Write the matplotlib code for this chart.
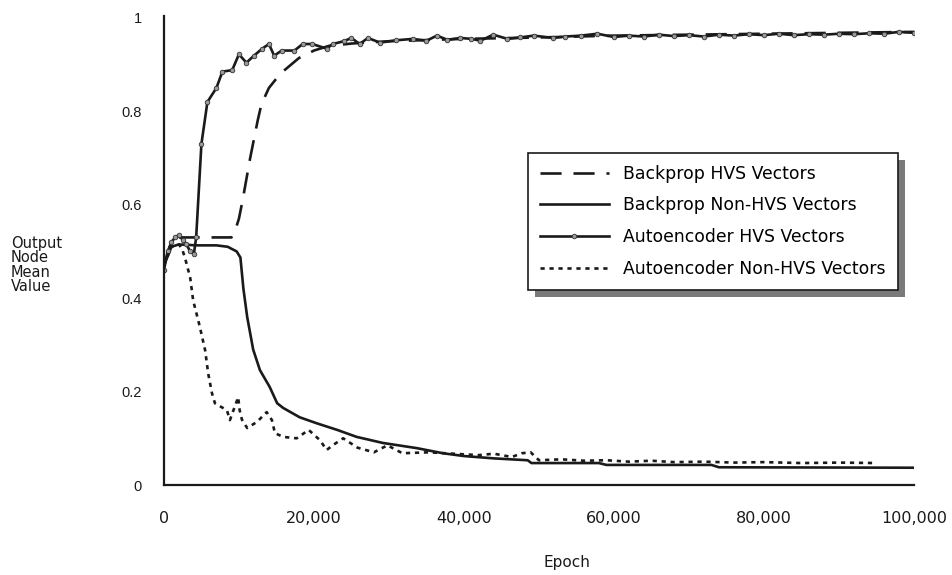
import matplotlib
matplotlib.use("Agg")
import matplotlib.pyplot as plt
from matplotlib.patches import Rectangle
import numpy as np

# epochs in thousands
BP_HVS_X = [0, 1, 2, 4.4, 9.0, 9.5, 10.0, 10.5, 11.0, 11.5, 12.0, 12.5, 13.0, 14.0,
            15.0, 16.0, 18.0, 20.0, 22.0, 25.0, 30.0, 40.0, 50.0, 60.0, 70.0, 80.0,
            90.0, 100.0]
BP_HVS_Y = [0.47, 0.52, 0.53, 0.53, 0.53, 0.545, 0.57, 0.61, 0.655, 0.70, 0.74,
            0.78, 0.815, 0.85, 0.87, 0.887, 0.914, 0.93, 0.94, 0.945, 0.95, 0.955,
            0.958, 0.962, 0.964, 0.966, 0.968, 0.97]

BP_NON_X = [0, 1, 2, 4.4, 7.0, 8.5, 9.7, 10.2, 10.6, 11.1, 11.9, 12.8, 14.1, 15.1,
            15.9, 18.1, 20.4, 23.1, 25.7, 29.2, 33.7, 37.2, 40.0, 44.0, 48.5, 49.0,
            58.0, 59.0, 73.0, 74.0, 100.0]
BP_NON_Y = [0.47, 0.51, 0.515, 0.513, 0.513, 0.51, 0.50, 0.487, 0.42, 0.36, 0.29,
            0.246, 0.21, 0.175, 0.165, 0.145, 0.132, 0.118, 0.103, 0.09, 0.079,
            0.068, 0.062, 0.057, 0.053, 0.047, 0.047, 0.043, 0.043, 0.038, 0.037]

AE_HVS_X = [0, 0.5, 1.0, 1.5, 2.0, 2.5, 3.0, 3.5, 4.0, 4.3, 5.0, 5.8, 7.0, 7.8, 9.1,
            10.0, 11.0, 12.0, 13.1, 14.0, 14.7, 15.7, 17.4, 18.5, 19.8, 21.7, 22.5,
            24.0, 25.0, 26.1, 27.2, 28.8, 31.0, 33.2, 35.0, 36.4, 37.8, 39.5, 41.0,
            42.2, 43.9, 45.8, 47.5, 49.3, 51.9, 53.5, 55.6, 57.8, 60.0, 62.0, 64.0,
            66.0, 68.0, 70.0, 72.0, 74.0, 76.0, 78.0, 80.0, 82.0, 84.0, 86.0, 88.0,
            90.0, 92.0, 94.0, 96.0, 98.0, 100.0]
AE_HVS_Y = [0.46, 0.50, 0.52, 0.53, 0.535, 0.525, 0.515, 0.50, 0.495, 0.53, 0.73,
            0.82, 0.85, 0.885, 0.888, 0.922, 0.904, 0.919, 0.934, 0.944, 0.919, 0.93,
            0.93, 0.944, 0.944, 0.934, 0.944, 0.95, 0.957, 0.944, 0.957, 0.947, 0.952,
            0.955, 0.951, 0.962, 0.953, 0.957, 0.955, 0.951, 0.964, 0.955, 0.958,
            0.962, 0.957, 0.96, 0.962, 0.966, 0.959, 0.962, 0.96, 0.964, 0.961, 0.963,
            0.96, 0.964, 0.962, 0.965, 0.963, 0.966, 0.963, 0.965, 0.964, 0.966,
            0.965, 0.967, 0.966, 0.97, 0.968]

AE_NON_X = [0, 1.0, 2.0, 2.4, 2.8, 3.5, 3.9, 4.8, 5.5, 5.9, 6.4, 6.8, 8.4, 8.8, 9.9,
            10.1, 10.4, 11.1, 12.4, 13.7, 14.4, 14.8, 15.9, 17.7, 19.3, 20.8, 21.7,
            22.5, 23.9, 25.8, 28.0, 29.8, 31.8, 35.3, 39.7, 42.0, 44.0, 46.4, 47.7,
            48.9, 50.0, 53.0, 56.0, 59.0, 62.0, 65.0, 68.0, 72.0, 76.0, 80.0, 85.0,
            90.0, 95.0]
AE_NON_Y = [0.47, 0.51, 0.515, 0.506, 0.487, 0.444, 0.395, 0.338, 0.288, 0.239,
            0.197, 0.175, 0.16, 0.139, 0.188, 0.16, 0.14, 0.122, 0.135, 0.156, 0.139,
            0.111, 0.103, 0.10, 0.118, 0.096, 0.075, 0.085, 0.10, 0.08, 0.07, 0.085,
            0.068, 0.07, 0.066, 0.064, 0.067, 0.06, 0.068, 0.07, 0.053, 0.055, 0.052,
            0.053, 0.05, 0.052, 0.049, 0.05, 0.048, 0.049, 0.047, 0.048, 0.047]

X_TICKS = [0, 20000, 40000, 60000, 80000, 100000]
X_TICK_LABELS = ["0", "20,000", "40,000", "60,000", "80,000", "100,000"]
Y_TICKS = [0, 0.2, 0.4, 0.6, 0.8, 1.0]
Y_TICK_LABELS = ["0", "0.2", "0.4", "0.6", "0.8", "1"]

INK = "#1a1a1a"


def main() -> None:
    plt.rcParams["font.family"] = "DejaVu Sans"
    fig = plt.figure(figsize=(9.53, 5.75), dpi=100)
    ax = fig.add_axes([0.172, 0.1565, 0.787, 0.8165])

    k = 1000.0
    ax.plot(np.array(BP_HVS_X) * k, BP_HVS_Y, color=INK, lw=1.9,
            dashes=(8, 4.5), label="Backprop HVS Vectors")
    ax.plot(np.array(BP_NON_X) * k, BP_NON_Y, color=INK, lw=1.9,
            label="Backprop Non-HVS Vectors")
    ax.plot(np.array(AE_HVS_X) * k, AE_HVS_Y, color=INK, lw=1.9, marker="o",
            ms=3.3, mfc="#9a9a9a", mec="#333333", mew=0.6,
            label="Autoencoder HVS Vectors")
    ax.plot(np.array(AE_NON_X) * k, AE_NON_Y, color=INK, lw=1.9,
            dashes=(1.6, 1.8), label="Autoencoder Non-HVS Vectors")

    ax.set_xlim(0, 100000)
    ax.set_ylim(0, 1.005)
    ax.set_xticks(X_TICKS)
    ax.set_xticklabels(X_TICK_LABELS, fontsize=11.5)
    ax.set_yticks(Y_TICKS)
    ax.set_yticklabels(Y_TICK_LABELS, fontsize=10.5, family="Liberation Sans")
    ax.tick_params(axis="x", length=0, pad=19, colors=INK)
    ax.tick_params(axis="y", length=0, pad=16, colors=INK)
    ax.spines[["top", "right"]].set_visible(False)
    for s in ("left", "bottom"):
        ax.spines[s].set_linewidth(1.6)
        ax.spines[s].set_color(INK)

    fig.text(567 / 953, 1 - 563 / 575, "Epoch", ha="center", va="center",
             fontsize=11, color=INK)
    fig.text(11 / 953, 1 - 265 / 575, "Output\nNode\nMean\nValue", ha="left",
             va="center", fontsize=10.5, color=INK, linespacing=0.95)

    leg = ax.legend(loc="upper left", bbox_to_anchor=(0.485, 0.708),
                    borderaxespad=0, fontsize=12.4, handlelength=4.0,
                    handletextpad=0.85, labelspacing=0.8, borderpad=0.7,
                    fancybox=False, edgecolor=INK, framealpha=1, numpoints=1)
    leg.get_frame().set_linewidth(1.2)
    leg.set_zorder(6)

    # drop shadow like the original legend box
    fig.canvas.draw()
    bb = leg.get_window_extent().transformed(ax.transAxes.inverted())
    dx = 7 / (ax.bbox.width)
    dy = 7 / (ax.bbox.height)
    ax.add_patch(Rectangle((bb.x0 + dx, bb.y0 - dy), bb.width, bb.height,
                           transform=ax.transAxes, facecolor="#7a7a7a",
                           edgecolor="none", zorder=5.5, clip_on=False))

    fig.savefig("out.png", dpi=100)
    plt.close(fig)


if __name__ == "__main__":
    main()
